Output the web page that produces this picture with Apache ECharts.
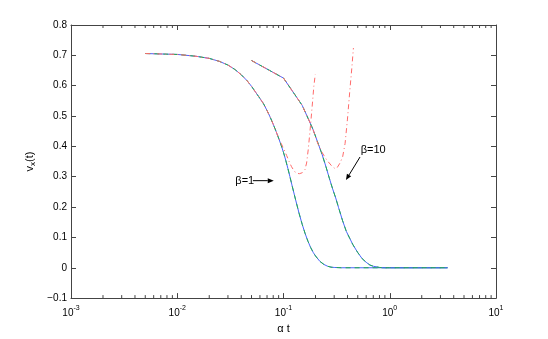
<!DOCTYPE html>
<html>
<head>
<meta charset="utf-8">
<script src="https://cdn.jsdelivr.net/npm/echarts@6/dist/echarts.min.js"></script>
<style>
html, body { margin: 0; padding: 0; background: #fff; }
#main { width: 548px; height: 339px; }
</style>
</head>
<body>
<div id="main"></div>
<script>
// beta = 1 : exact / approximation
var t1 = [0.005, 0.01, 0.015, 0.02, 0.025, 0.03, 0.035, 0.04, 0.045, 0.05, 0.055, 0.06, 0.065, 0.07, 0.075,
  0.08, 0.085, 0.09, 0.095, 0.1, 0.105, 0.11, 0.115, 0.12, 0.13, 0.14, 0.15, 0.16, 0.17, 0.18, 0.19, 0.2,
  0.22, 0.24, 0.26, 0.28, 0.3, 0.35, 1, 2, 3.5];
var v1 = [0.706, 0.703, 0.697, 0.690, 0.680, 0.668, 0.653, 0.636, 0.618, 0.598, 0.577, 0.558, 0.540, 0.518, 0.496,
  0.473, 0.450, 0.427, 0.404, 0.380, 0.354, 0.327, 0.300, 0.273, 0.224, 0.180, 0.143, 0.112, 0.087, 0.067, 0.051, 0.039,
  0.021, 0.011, 0.005, 0.002, 0.001, 0, 0, 0, 0];
// beta = 1 : series expansion (diverges)
var t1r = [0.005, 0.01, 0.015, 0.02, 0.025, 0.03, 0.035, 0.04, 0.045, 0.05, 0.055, 0.06, 0.065, 0.07, 0.075,
  0.08, 0.085, 0.09, 0.095, 0.1, 0.107, 0.113, 0.119, 0.127, 0.135, 0.141, 0.15, 0.159, 0.165, 0.171, 0.18,
  0.188, 0.193, 0.199];
var v1r = [0.706, 0.703, 0.697, 0.690, 0.680, 0.668, 0.653, 0.636, 0.618, 0.598, 0.577, 0.558, 0.540, 0.518, 0.496,
  0.473, 0.450, 0.427, 0.41, 0.393, 0.37, 0.35, 0.333, 0.317, 0.311, 0.31, 0.313, 0.323, 0.345, 0.39, 0.473,
  0.55, 0.598, 0.637];

// beta = 10
var t10 = [0.05, 0.1, 0.15, 0.17, 0.19, 0.21, 0.23, 0.25, 0.27, 0.29, 0.31, 0.33, 0.36, 0.39, 0.42, 0.45,
  0.5, 0.55, 0.6, 0.65, 0.7, 0.8, 0.9, 1, 2, 3.5];
var v10 = [0.683, 0.625, 0.535, 0.493, 0.455, 0.413, 0.375, 0.335, 0.295, 0.26, 0.23, 0.198, 0.155, 0.12, 0.097, 0.076,
  0.05, 0.03, 0.018, 0.009, 0.005, 0.001, 0, 0, 0, 0];
var t10r = [0.05, 0.1, 0.15, 0.17, 0.19, 0.198, 0.21, 0.229, 0.25, 0.264, 0.285, 0.305, 0.32, 0.34, 0.36, 0.38,
  0.4, 0.42, 0.44, 0.455];
var v10r = [0.683, 0.625, 0.535, 0.493, 0.455, 0.436, 0.41, 0.382, 0.36, 0.349, 0.335, 0.327, 0.33, 0.345, 0.365, 0.41,
  0.49, 0.58, 0.66, 0.724];

var decades = [0.001, 0.01, 0.1, 1];
var minorSteps = [2, 3, 4, 5, 6, 7, 8, 9];

function zip(a, b) {
  return a.map(function (x, i) { return [x, b[i]]; });
}

var minorTicks = [];
decades.forEach(function (d) {
  minorSteps.forEach(function (m) { minorTicks.push([d * m, -0.1]); });
});

var chart = echarts.init(document.getElementById('main'));
var font = 'Liberation Sans, Arial, Helvetica, sans-serif';
var axisColor = '#444';

var logLabel = {
  color: '#000',
  fontFamily: font,
  fontSize: 10,
  margin: 6,
  formatter: function (v) {
    var e = Math.round(Math.log10(v));
    return '{b|10}{s|' + e + '}';
  },
  rich: {
    b: { fontSize: 10, fontFamily: font, color: '#000', verticalAlign: 'bottom', lineHeight: 14 },
    s: { fontSize: 7, fontFamily: font, color: '#000', verticalAlign: 'top', lineHeight: 14, padding: [0, 0, 4, 0] }
  }
};

var option = {
  animation: false,
  grid: { left: 71, right: 52, top: 25, bottom: 38 },
  xAxis: [{
    type: 'log',
    logBase: 10,
    min: 0.001,
    max: 10,
    name: 'α t',
    nameLocation: 'middle',
    nameGap: 20,
    nameTextStyle: { color: '#000', fontFamily: font, fontSize: 11 },
    axisLine: { onZero: false, lineStyle: { color: axisColor } },
    axisTick: { inside: true, length: 5, lineStyle: { color: axisColor } },
    axisLabel: logLabel,
    splitLine: { show: false }
  }, {
    type: 'log',
    logBase: 10,
    min: 0.001,
    max: 10,
    position: 'top',
    axisLine: { onZero: false, lineStyle: { color: axisColor } },
    axisTick: { inside: true, length: 5, lineStyle: { color: axisColor } },
    axisLabel: { show: false },
    splitLine: { show: false }
  }],
  yAxis: [{
    type: 'value',
    min: -0.1,
    max: 0.8,
    interval: 0.1,
    name: '{a|v}{s|x}{a|(t)}',
    nameLocation: 'middle',
    nameRotate: 90,
    nameGap: 22,
    nameTextStyle: {
      rich: {
        a: { fontSize: 11, fontFamily: font, color: '#000', lineHeight: 16 },
        s: { fontSize: 8, fontFamily: font, color: '#000', lineHeight: 16, padding: [5, 0, 0, 0] }
      }
    },
    axisLine: { show: true, onZero: false, lineStyle: { color: axisColor } },
    axisTick: { inside: true, length: 5, lineStyle: { color: axisColor } },
    axisLabel: {
      color: '#000',
      fontFamily: font,
      fontSize: 10,
      margin: 4,
      formatter: function (v) {
        var r = Math.round(v * 10) / 10;
        if (r === 0) return '0';
        return (r < 0 ? '\u2212' : '') + Math.abs(r).toFixed(1);
      }
    },
    splitLine: { show: false }
  }, {
    type: 'value',
    min: -0.1,
    max: 0.8,
    interval: 0.1,
    position: 'right',
    axisLine: { show: true, onZero: false, lineStyle: { color: axisColor } },
    axisTick: { inside: true, length: 5, lineStyle: { color: axisColor } },
    axisLabel: { show: false },
    splitLine: { show: false }
  }],
  series: [
    { type: 'line', data: zip(t1, v1), symbol: 'none', lineStyle: { color: '#4a62ff', width: 1 } },
    { type: 'line', data: zip(t1, v1), symbol: 'none', lineStyle: { color: '#22b04a', width: 1, type: [5, 4] } },
    { type: 'line', data: zip(t1r, v1r), symbol: 'none', lineStyle: { color: '#ff6a6a', width: 1, type: [5, 3, 1, 3] } },
    { type: 'line', data: zip(t10, v10), symbol: 'none', lineStyle: { color: '#4a62ff', width: 1 } },
    { type: 'line', data: zip(t10, v10), symbol: 'none', lineStyle: { color: '#22b04a', width: 1, type: [5, 4] } },
    { type: 'line', data: zip(t10r, v10r), symbol: 'none', lineStyle: { color: '#ff6a6a', width: 1, type: [5, 3, 1, 3] } },
    {
      type: 'custom',
      silent: true,
      clip: false,
      data: minorTicks,
      renderItem: function (params, api) {
        var p = api.coord([api.value(0), -0.1]);
        var q = api.coord([api.value(0), 0.8]);
        return {
          type: 'group',
          children: [
            { type: 'line', shape: { x1: p[0], y1: p[1], x2: p[0], y2: p[1] - 3 }, style: { stroke: axisColor, lineWidth: 1 } },
            { type: 'line', shape: { x1: q[0], y1: q[1], x2: q[0], y2: q[1] + 3 }, style: { stroke: axisColor, lineWidth: 1 } }
          ]
        };
      }
    }
  ]
};

chart.setOption(option);

// annotations placed in data coordinates
function px(x, y) {
  return chart.convertToPixel({ xAxisIndex: 0, yAxisIndex: 0 }, [x, y]);
}
function arrow(from, to) {
  var a = px(from[0], from[1]);
  var b = px(to[0], to[1]);
  var ang = Math.atan2(b[1] - a[1], b[0] - a[0]);
  var L = 6, W = 2.5;
  var bx = b[0] - L * Math.cos(ang), by = b[1] - L * Math.sin(ang);
  var nx = -Math.sin(ang) * W, ny = Math.cos(ang) * W;
  return [
    { type: 'line', shape: { x1: a[0], y1: a[1], x2: bx, y2: by }, style: { stroke: '#000', lineWidth: 1 } },
    { type: 'polygon', shape: { points: [[b[0], b[1]], [bx + nx, by + ny], [bx - nx, by - ny]] }, style: { fill: '#000' } }
  ];
}
var p1 = px(0.0352, 0.287);
var p10 = px(0.533, 0.387);
var els = [
  { type: 'text', x: p1[0], y: p1[1], style: { text: 'β=1', fontSize: 11, fontFamily: font, fill: '#000', verticalAlign: 'middle' } },
  { type: 'text', x: p10[0], y: p10[1], style: { text: 'β=10', fontSize: 11, fontFamily: font, fill: '#000', verticalAlign: 'middle' } }
].concat(arrow([0.0515, 0.287], [0.081, 0.287])).concat(arrow([0.525, 0.365], [0.387, 0.289]));
chart.setOption({ graphic: els });
</script>
</body>
</html>
